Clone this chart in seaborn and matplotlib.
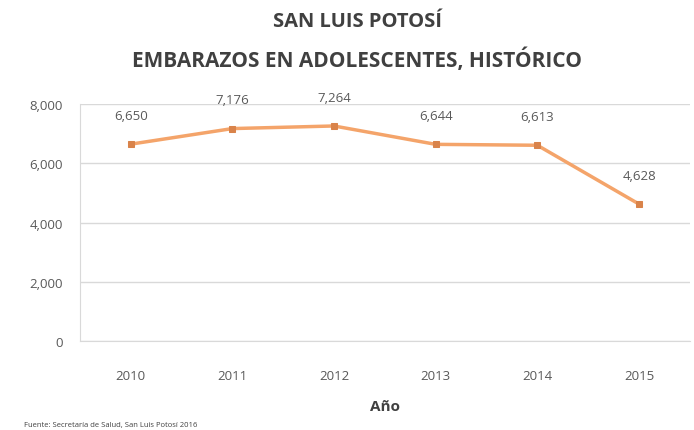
import pandas as pd
import matplotlib
matplotlib.use('Agg')
import matplotlib.pyplot as plt
import seaborn as sns

# datos
anios = ['2010', '2011', '2012', '2013', '2014', '2015']
embarazos = [6650, 7176, 7264, 6644, 6613, 4628]
etiquetas = ['6,650', '7,176', '7,264', '6,644', '6,613', '4,628']

df = pd.DataFrame({'anio': anios, 'embarazos': embarazos})

sns.set_style('white')
plt.rcParams['font.family'] = ['Open Sans', 'DejaVu Sans']

fig = plt.figure(figsize=(6.94, 4.31), dpi=100)
ax = fig.add_axes([0.115, 0.206, 0.879, 0.55])

sns.lineplot(data=df, x='anio', y='embarazos', ax=ax, color='#F4A46A', linewidth=2.5,
             marker='s', markersize=5, markerfacecolor='#D9834A', markeredgecolor='#D9834A', sort=False)

for i, (v, t) in enumerate(zip(embarazos, etiquetas)):
    ax.annotate(t, (i, v), xytext=(0, 16), textcoords='offset points', ha='center', va='bottom',
                fontsize=9.5, color='#595959')

ax.set_xlim(-0.5, 5.5)
ax.set_ylim(0, 8000)
ax.set_yticks([0, 2000, 4000, 6000, 8000])
ax.set_yticklabels(['0', '2,000', '4,000', '6,000', '8,000'])
ax.yaxis.grid(True, color='#D9D9D9', linewidth=1)
ax.set_axisbelow(True)
for s in ['top', 'right']:
    ax.spines[s].set_visible(False)
ax.spines['left'].set_color('#D9D9D9')
ax.spines['bottom'].set_color('#D9D9D9')
ax.tick_params(axis='y', labelsize=9.5, colors='#595959', length=0, pad=12)
ax.tick_params(axis='x', labelsize=9.5, colors='#595959', length=0, pad=20)
ax.set_xlabel('Año', fontsize=11, fontweight='bold', color='#404040', labelpad=12)
ax.set_ylabel('')

# titulo en dos lineas, separadas como en el original
fig.text(0.515, 1 - 22 / 431, 'SAN LUIS POTOSÍ', ha='center', va='center',
         fontsize=14.5, fontweight='bold', color='#404040')
fig.text(0.515, 1 - 60 / 431, 'EMBARAZOS EN ADOLESCENTES, HISTÓRICO', ha='center', va='center',
         fontsize=15, fontweight='bold', color='#404040')
fig.text(0.035, 0.01, 'Fuente: Secretaría de Salud, San Luis Potosí 2016', fontsize=5.5, color='#404040')

fig.savefig('out.png', dpi=100)
